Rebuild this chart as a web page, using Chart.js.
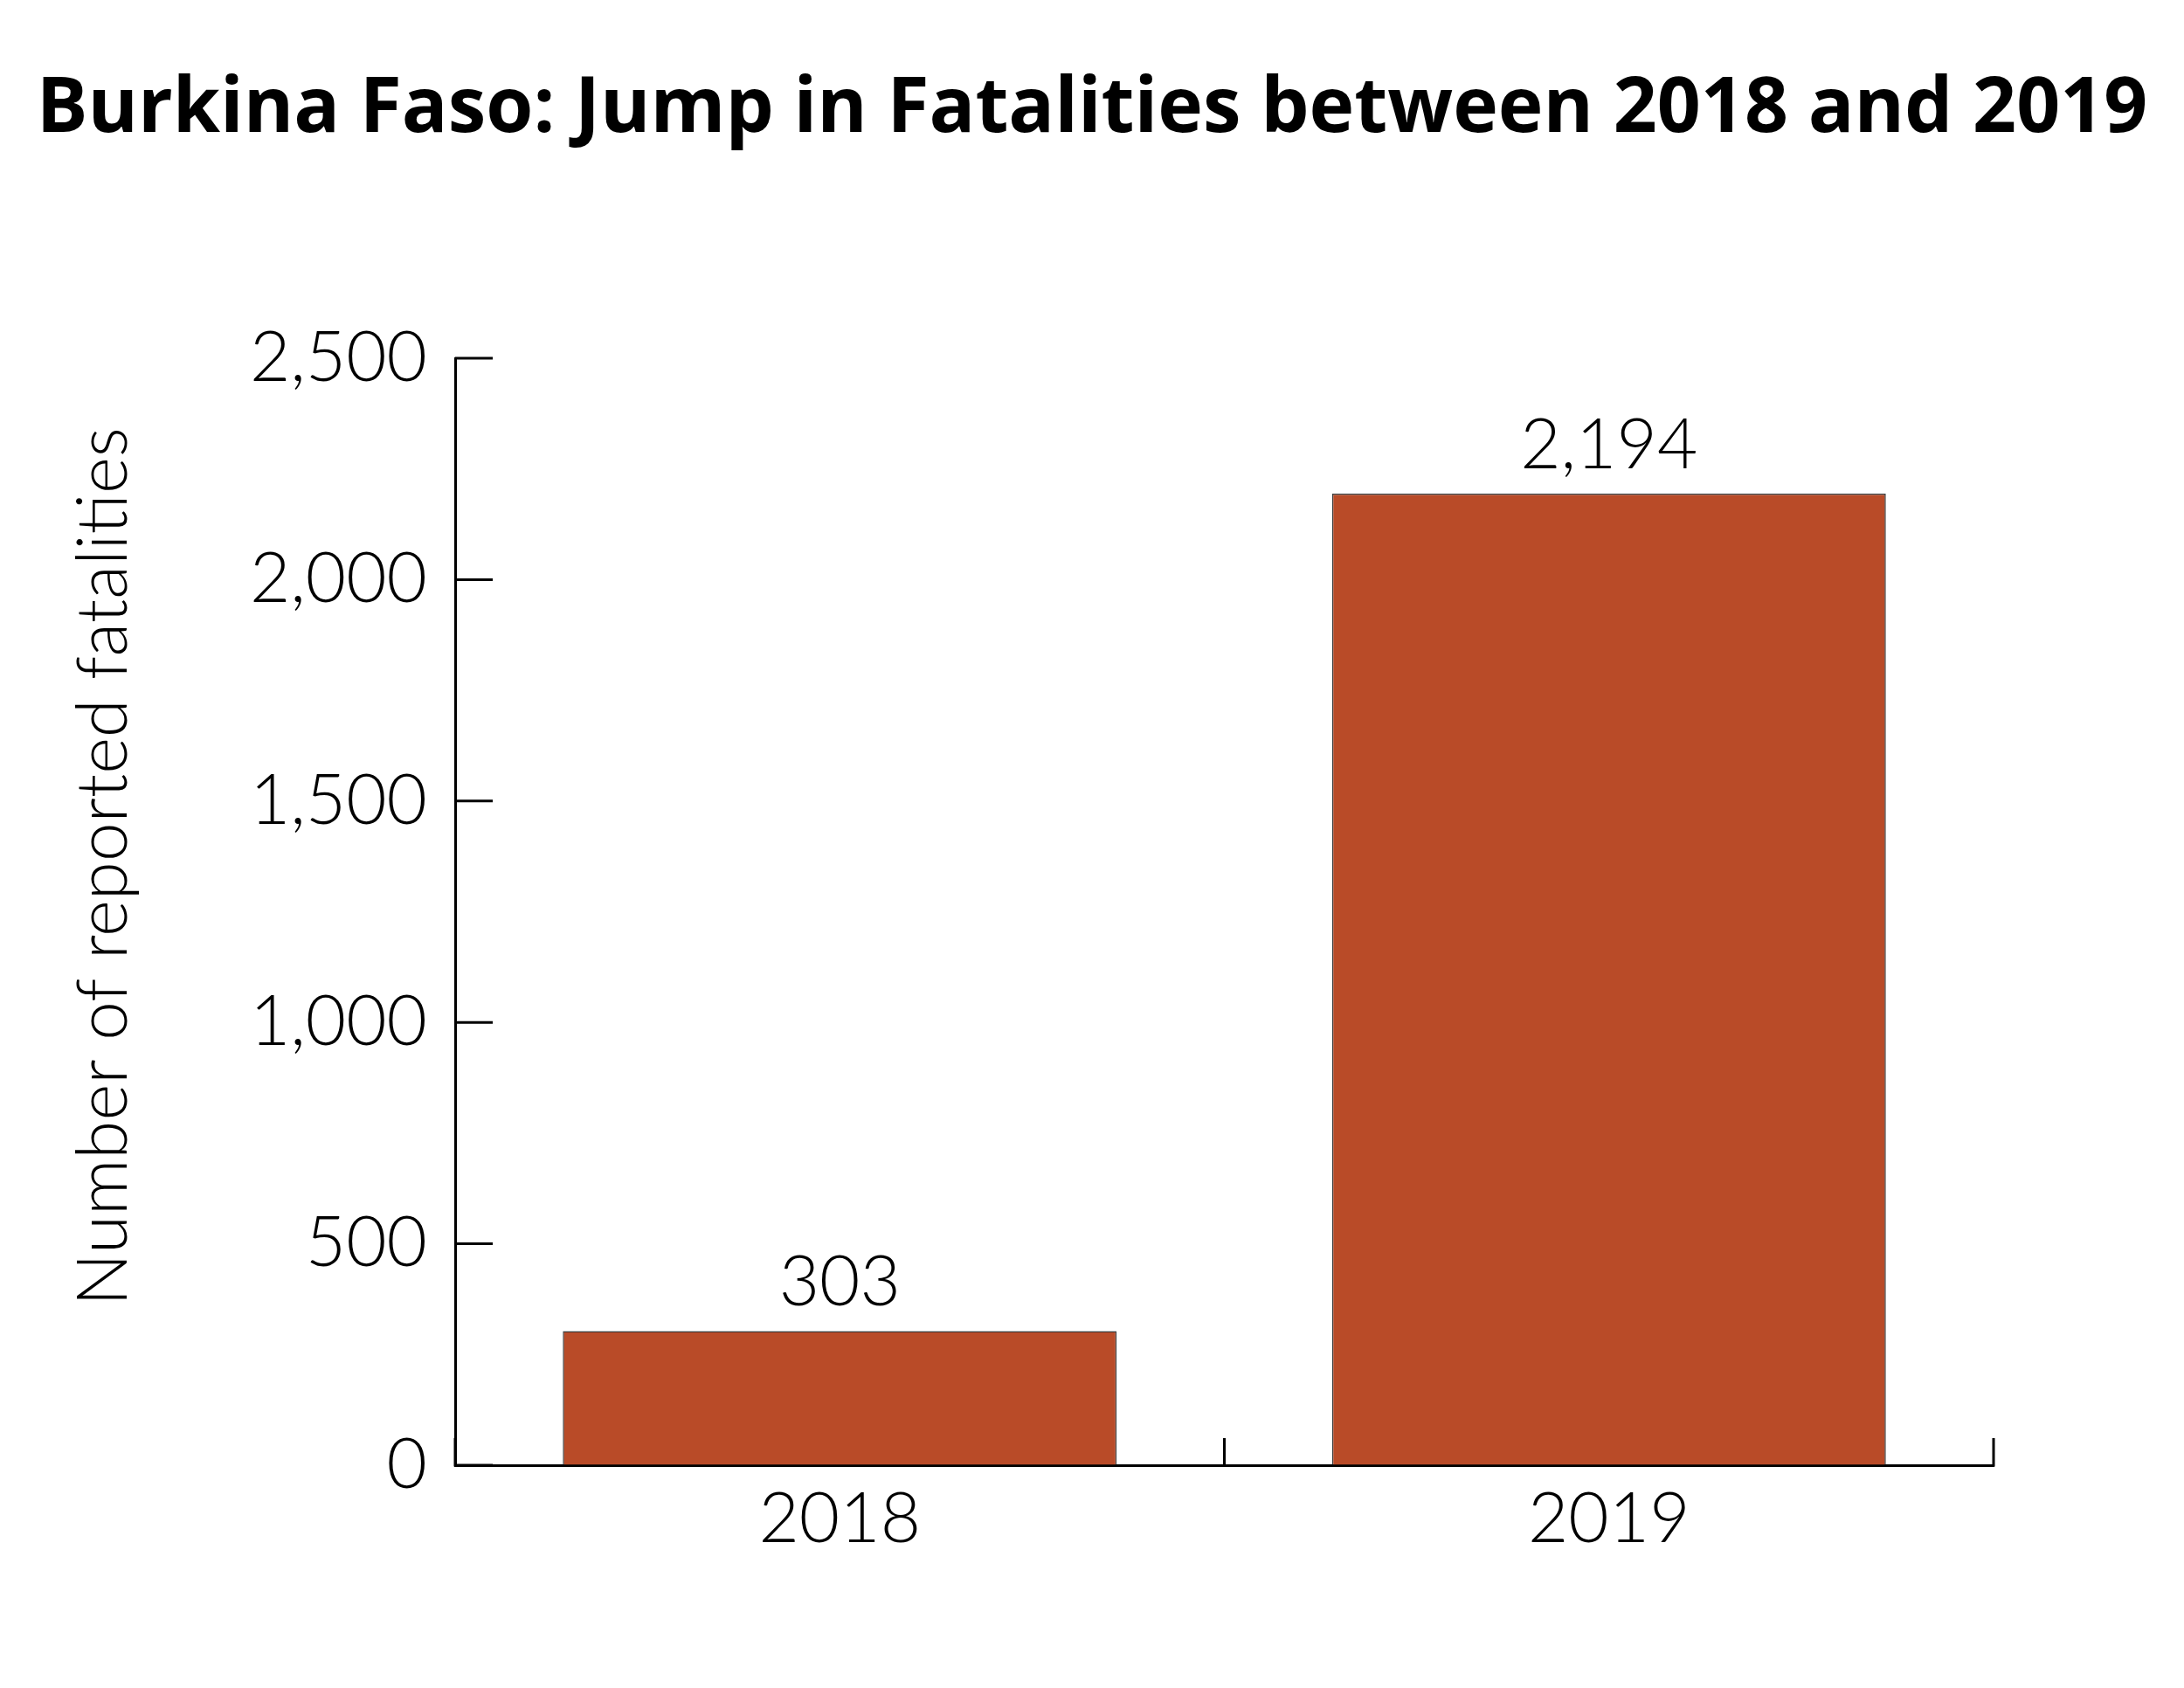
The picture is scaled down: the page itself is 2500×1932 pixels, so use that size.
<!DOCTYPE html>
<html>
<head>
<meta charset="utf-8">
<script src="https://cdn.jsdelivr.net/npm/chart.js@4/dist/chart.umd.min.js"></script>
<style>
  html, body { margin: 0; padding: 0; background: #fff; }
  #chart { display: block; }
</style>
</head>
<body>
<canvas id="chart" width="2500" height="1932"></canvas>
<script>
// data
const years = ["2018", "2019"];
const fatalities = [303, 2194];
const yTicks = [0, 500, 1000, 1500, 2000, 2500];
const chartTitle = "Burkina Faso: Jump in Fatalities between 2018 and 2019";
const yTitle = "Number of reported fatalities";

const FONT = "Lato, 'Open Sans', sans-serif";
const TITLE_FONT = "'Open Sans', Lato, sans-serif";
const fmt = v => v.toLocaleString("en-US");

// inner tick marks on both axes
const innerTicks = {
    id: "innerTicks",
    afterDraw(chart) {
        const { ctx, chartArea, scales } = chart;
        ctx.save();
        ctx.strokeStyle = "#000";
        ctx.lineWidth = 3;
        ctx.beginPath();
        scales.y.ticks.forEach(t => {
            const py = scales.y.getPixelForValue(t.value);
            ctx.moveTo(chartArea.left, py);
            ctx.lineTo(chartArea.left + 43, py);
        });
        for (let i = 0; i <= years.length; i++) {
            const px = scales.x.getPixelForValue(i - 0.5);
            ctx.moveTo(px, chartArea.bottom + 1.5);
            ctx.lineTo(px, chartArea.bottom - 31);
        }
        ctx.stroke();
        ctx.restore();
    }
};

// value labels above bars + rotated y title
const labels = {
    id: "labels",
    afterDatasetsDraw(chart) {
        const { ctx } = chart;
        const meta = chart.getDatasetMeta(0);
        ctx.save();
        ctx.fillStyle = "#000";
        ctx.font = "300 80px " + FONT;
        ctx.textAlign = "center";
        ctx.textBaseline = "alphabetic";
        meta.data.forEach((bar, i) => {
            ctx.fillText(fmt(fatalities[i]), bar.x, bar.y - 29);
        });
        ctx.translate(145, 992);
        ctx.rotate(-Math.PI / 2);
        ctx.fillText(yTitle, 0, 0);
        ctx.restore();
    }
};

new Chart(document.getElementById("chart"), {
    type: "bar",
    data: {
        labels: years,
        datasets: [{
            data: fatalities,
            backgroundColor: "#B94B28",
            borderColor: "#3a3a3a",
            borderWidth: 1.5,
            barPercentage: 0.72,
            categoryPercentage: 1
        }]
    },
    options: {
        responsive: false,
        devicePixelRatio: 1,
        animation: false,
        layout: { padding: 0 },
        plugins: {
            legend: { display: false },
            tooltip: { enabled: false },
            title: {
                display: true,
                text: chartTitle,
                color: "#000",
                font: { family: TITLE_FONT, size: 87.5, weight: "bold" },
                padding: { top: 74, bottom: 231 }
            }
        },
        scales: {
            x: {
                offset: true,
                grid: { display: true, drawOnChartArea: false, drawTicks: false, offset: true, color: "rgba(0,0,0,0)" },
                border: { color: "#000", width: 3 },
                ticks: { color: "#000", padding: 14, font: { family: FONT, size: 80, weight: "300" } },
                afterFit: s => { s.height = 255; }
            },
            y: {
                min: 0,
                max: 2500,
                afterBuildTicks: s => { s.ticks = yTicks.map(v => ({ value: v })); },
                grid: { drawOnChartArea: false, drawTicks: false, color: "rgba(0,0,0,0)" },
                border: { color: "#000", width: 3 },
                ticks: {
                    color: "#000",
                    padding: 32,
                    font: { family: FONT, size: 80, weight: "300" },
                    callback: v => fmt(v)
                },
                afterFit: s => { s.width = 521; }
            },
            // empty right-hand space so the title stays centred on the page
            yRight: {
                position: "right",
                min: 0,
                max: 2500,
                grid: { display: false },
                border: { display: false },
                ticks: { display: false },
                afterFit: s => { s.width = 218; }
            }
        }
    },
    plugins: [innerTicks, labels]
});
</script>
</body>
</html>
